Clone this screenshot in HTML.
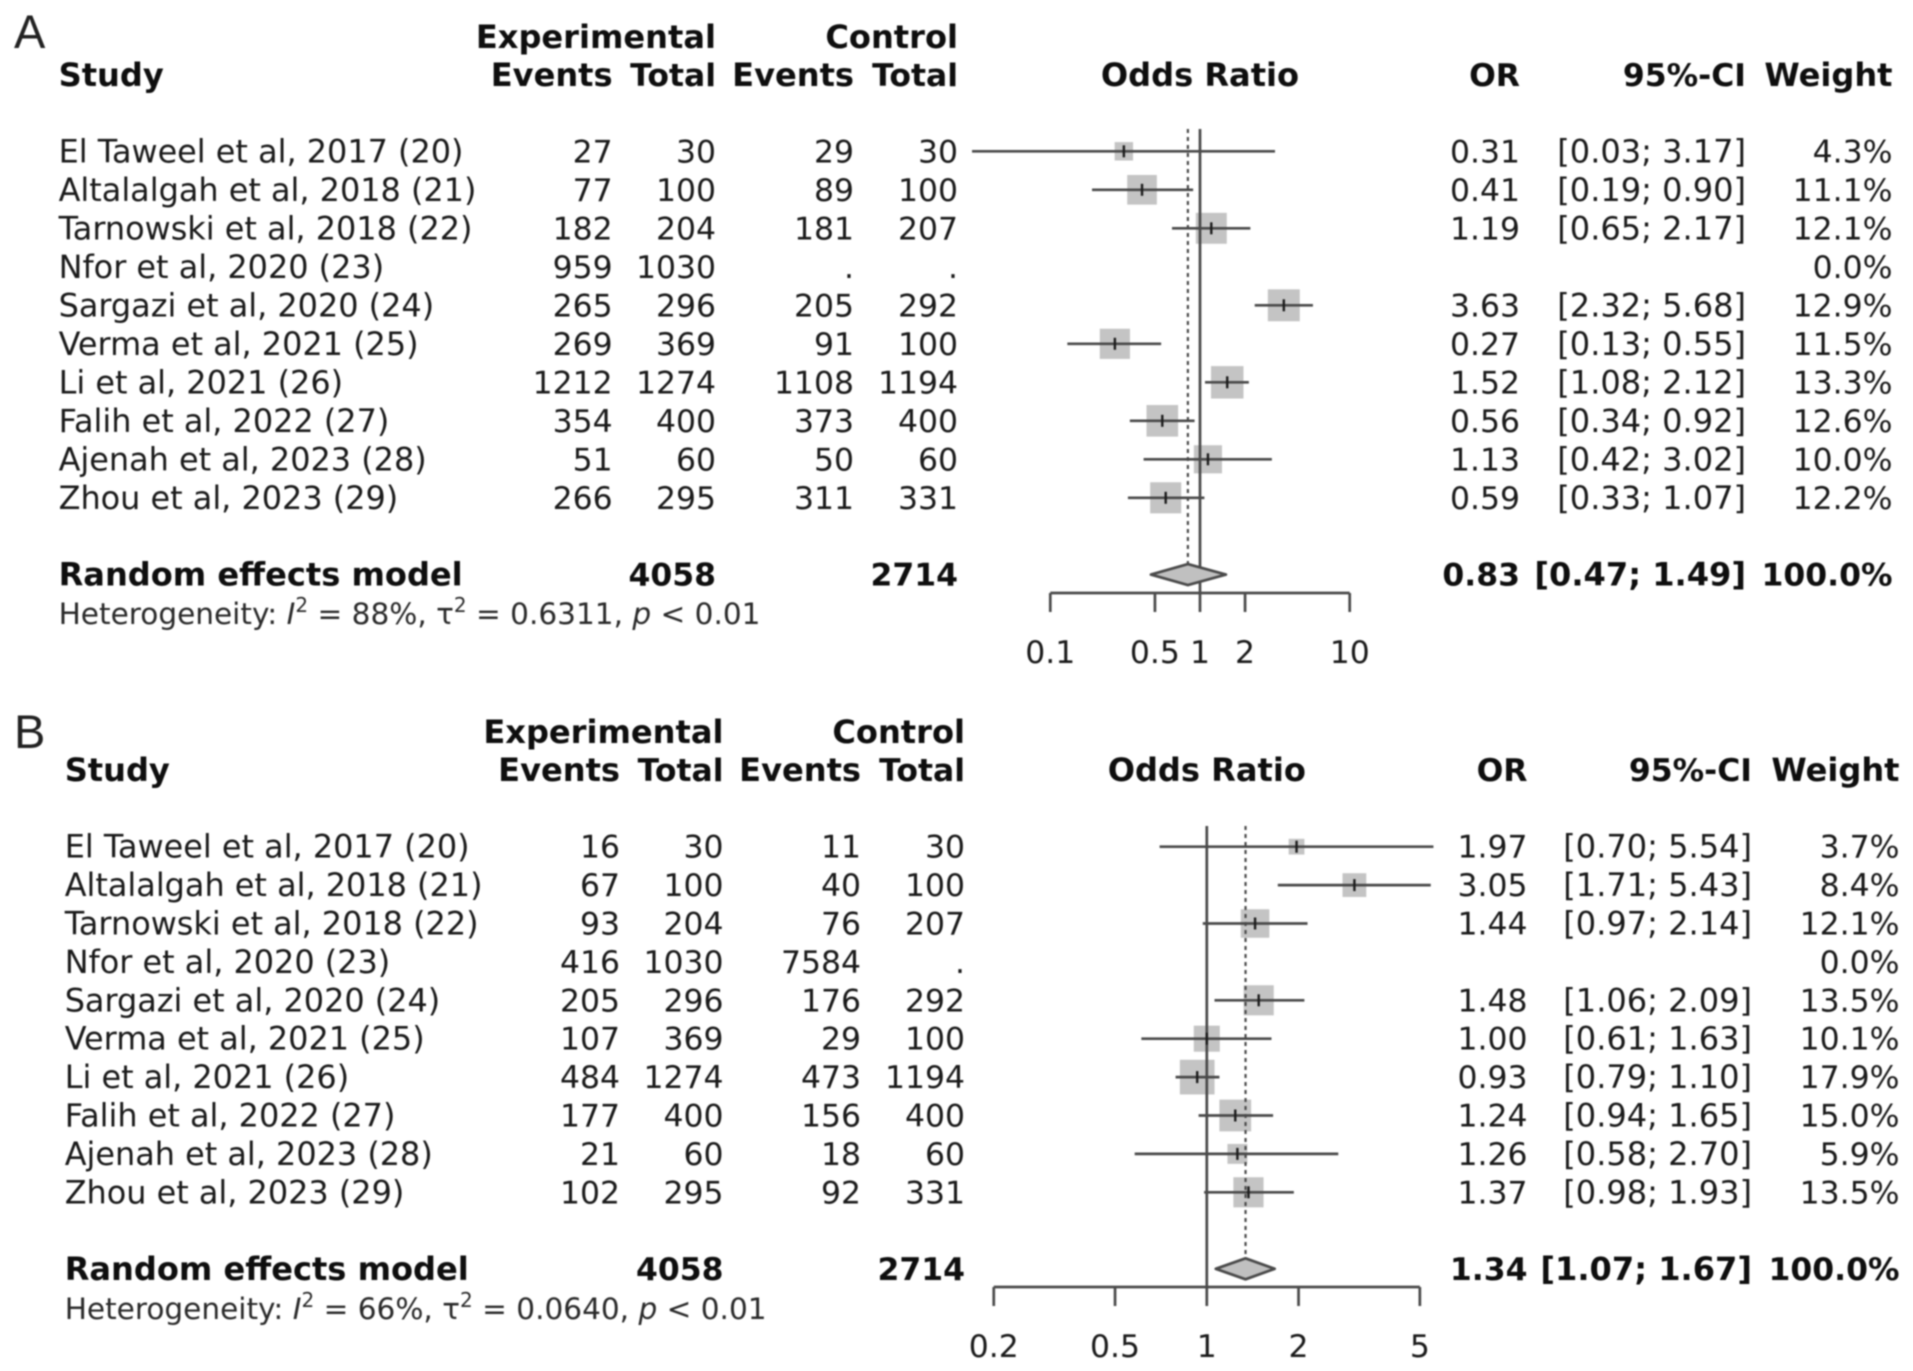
<!DOCTYPE html>
<html lang="en">
<head>
<meta charset="utf-8">
<title>Forest plots</title>
<style>
html,body{margin:0;padding:0;background:#fff;}
svg{display:block;filter:blur(0.9px);}
text{font-family:"DejaVu Sans","Liberation Sans",sans-serif;font-size:31.9px;fill:#1a1a1a;}
.n{font-size:31.45px;}
.ci{font-size:32.05px;}
.b{font-weight:bold;fill:#0e0e0e;font-size:32.1px;}
.b.n{font-size:31.45px;}
.h{font-size:29.55px;fill:#2a2a2a;}
.letter{font-family:"Liberation Sans",sans-serif;font-size:47px;fill:#222;}
</style>
</head>
<body>
<svg id="chart" xmlns="http://www.w3.org/2000/svg" width="1913" height="1371" viewBox="0 0 1913 1371">
<rect width="1913" height="1371" fill="#fff"></rect>
</svg>
<script>
const studies = ["El Taweel et al, 2017 (20)","Altalalgah et al, 2018 (21)","Tarnowski et al, 2018 (22)","Nfor et al, 2020 (23)","Sargazi et al, 2020 (24)","Verma et al, 2021 (25)","Li et al, 2021 (26)","Falih et al, 2022 (27)","Ajenah et al, 2023 (28)","Zhou et al, 2023 (29)"];

const aExpEvents = ["27","77","182","959","265","269","1212","354","51","266"];
const aExpTotal = ["30","100","204","1030","296","369","1274","400","60","295"];
const aCtrlEvents = ["29","89","181",".","205","91","1108","373","50","311"];
const aCtrlTotal = ["30","100","207",".","292","100","1194","400","60","331"];
const aOR = [0.31,0.41,1.19,null,3.63,0.27,1.52,0.56,1.13,0.59];
const aLower = [0.03,0.19,0.65,null,2.32,0.13,1.08,0.34,0.42,0.33];
const aUpper = [3.17,0.90,2.17,null,5.68,0.55,2.12,0.92,3.02,1.07];
const aWeight = [4.3,11.1,12.1,0.0,12.9,11.5,13.3,12.6,10.0,12.2];
const aPooled = [0.83,0.47,1.49];
const aTotals = ["4058","2714"];
const aTicks = [0.1,0.5,1,2,10];
const aTickLabels = ["0.1","0.5","1","2","10"];
const aHet = ["88%","0.6311"];

const bExpEvents = ["16","67","93","416","205","107","484","177","21","102"];
const bExpTotal = ["30","100","204","1030","296","369","1274","400","60","295"];
const bCtrlEvents = ["11","40","76","7584","176","29","473","156","18","92"];
const bCtrlTotal = ["30","100","207",".","292","100","1194","400","60","331"];
const bOR = [1.97,3.05,1.44,null,1.48,1.00,0.93,1.24,1.26,1.37];
const bLower = [0.70,1.71,0.97,null,1.06,0.61,0.79,0.94,0.58,0.98];
const bUpper = [5.54,5.43,2.14,null,2.09,1.63,1.10,1.65,2.70,1.93];
const bWeight = [3.7,8.4,12.1,0.0,13.5,10.1,17.9,15.0,5.9,13.5];
const bPooled = [1.34,1.07,1.67];
const bTotals = ["4058","2714"];
const bTicks = [0.2,0.5,1,2,5];
const bTickLabels = ["0.2","0.5","1","2","5"];
const bHet = ["66%","0.0640"];

const NS = "http://www.w3.org/2000/svg";
const root = document.getElementById("chart");

function mk(parent, tag, attrs) {
  const el = document.createElementNS(NS, tag);
  for (const k in attrs) el.setAttribute(k, attrs[k]);
  parent.appendChild(el);
  return el;
}

function label(parent, str, x, y, anchor, cls, name) {
  const t = mk(parent, "text", {x: x, y: y, "text-anchor": anchor});
  if (cls) t.setAttribute("class", cls);
  t.textContent = str;
  
  
  return t;
}

function span(parent, str, style, dy) {
  const s = mk(parent, "tspan", {});
  if (style) s.setAttribute("font-style", style);
  if (dy) s.setAttribute("dy", dy);
  s.textContent = str;
  return s;
}

function panel(p) {
  const g = mk(root, "g", {});
  
  

  const xScale = v => p.x1 + p.dec * Math.log10(v);
  const yRow = i => p.y0 + i * p.rowH;
  const c = p.cols;
  const GREY = "#4a4a4a";
  const SW = 2.7;

  label(g, p.letter, p.letterX, p.letterY, "start", "letter", "panel-letter");

  label(g, "Experimental", c.expTotal, p.yTop, "end", "b", "experimental-header");
  label(g, "Control", c.ctrlTotal, p.yTop, "end", "b", "control-header");
  label(g, "Study", c.study, p.yHead, "start", "b", "study-column-header");
  label(g, "Events", c.expEvents, p.yHead, "end", "b", "experimental-events-header");
  label(g, "Total", c.expTotal, p.yHead, "end", "b n", "experimental-total-header");
  label(g, "Events", c.ctrlEvents, p.yHead, "end", "b", "control-events-header");
  label(g, "Total", c.ctrlTotal, p.yHead, "end", "b n", "control-total-header");
  label(g, "Odds Ratio", xScale(1), p.yHead, "middle", "b", "odds-ratio-header");
  label(g, "OR", c.or, p.yHead, "end", "b n", "or-column-header");
  label(g, "95%-CI", c.ci, p.yHead, "end", "b n", "ci-column-header");
  label(g, "Weight", c.weight, p.yHead, "end", "b", "weight-column-header");

  // squares first, so lines and reference lines sit on top
  p.or.forEach((v, i) => {
    if (v === null) return;
    const s = p.k * Math.sqrt(p.weight[i]);
    const sq = mk(g, "rect", {x: xScale(v) - s / 2, y: yRow(i) - s / 2, width: s, height: s, fill: "#c4c4c4"});
    
    
  });

  const nullLine = mk(g, "line", {x1: xScale(1), x2: xScale(1), y1: p.yLineTop, y2: p.yAxis, stroke: GREY, "stroke-width": SW});
  
  

  const pooledLine = mk(g, "line", {x1: xScale(p.pooled[0]), x2: xScale(p.pooled[0]), y1: p.yLineTop, y2: p.yTotal - 11, stroke: GREY, "stroke-width": 2.2, "stroke-dasharray": "4 4"});
  
  

  studies.forEach((name, i) => {
    const y = yRow(i);
    const ty = y + 11;
    label(g, name, c.study, ty, "start", "", "study-name");
    label(g, p.expEvents[i], c.expEvents, ty, "end", "n", "experimental-events");
    label(g, p.expTotal[i], c.expTotal, ty, "end", "n", "experimental-total");
    label(g, p.ctrlEvents[i], c.ctrlEvents, ty, "end", "n", "control-events");
    label(g, p.ctrlTotal[i], c.ctrlTotal, ty, "end", "n", "control-total");
    label(g, p.weight[i].toFixed(1) + "%", c.weight, ty, "end", "n", "study-weight");
    if (p.or[i] === null) return;
    label(g, p.or[i].toFixed(2), c.or, ty, "end", "n", "study-or");
    label(g, "[" + p.lower[i].toFixed(2) + "; " + p.upper[i].toFixed(2) + "]", c.ci, ty, "end", "ci", "study-ci");
    const ci = mk(g, "line", {x1: xScale(p.lower[i]), x2: xScale(p.upper[i]), y1: y, y2: y, stroke: GREY, "stroke-width": SW});
    
    
    const tick = mk(g, "line", {x1: xScale(p.or[i]), x2: xScale(p.or[i]), y1: y - 6, y2: y + 6, stroke: "#1c1c1c", "stroke-width": 2.4});
    
    
  });

  const ty = p.yTotal + 11;
  label(g, "Random effects model", c.study, ty, "start", "b", "random-effects-label");
  label(g, p.totals[0], c.expTotal, ty, "end", "b n", "experimental-grand-total");
  label(g, p.totals[1], c.ctrlTotal, ty, "end", "b n", "control-grand-total");
  label(g, p.pooled[0].toFixed(2), c.or, ty, "end", "b n", "pooled-or");
  label(g, "[" + p.pooled[1].toFixed(2) + "; " + p.pooled[2].toFixed(2) + "]", c.ci, ty, "end", "b", "pooled-ci");
  label(g, "100.0%", c.weight, ty, "end", "b n", "pooled-weight");

  const d = p.yTotal, hd = 10.5;
  const pts = [[xScale(p.pooled[1]), d], [xScale(p.pooled[0]), d - hd], [xScale(p.pooled[2]), d], [xScale(p.pooled[0]), d + hd]];
  const diamond = mk(g, "polygon", {points: pts.map(q => q.join(",")).join(" "), fill: "#c0c0c0", stroke: GREY, "stroke-width": SW, "stroke-linejoin": "round"});
  
  

  const het = label(g, "Heterogeneity: ", c.study, p.yHet, "start", "h", "heterogeneity-statistics");
  span(het, "I", "italic");
  span(het, "2", "", "-12").setAttribute("font-size", "20");
  span(het, " = " + p.het[0] + ", τ", "", "12");
  span(het, "2", "", "-12").setAttribute("font-size", "20");
  span(het, " = " + p.het[1] + ", ", "", "12");
  span(het, "p", "italic");
  span(het, " < 0.01");

  const axis = mk(g, "line", {x1: xScale(p.ticks[0]), x2: xScale(p.ticks[p.ticks.length - 1]), y1: p.yAxis, y2: p.yAxis, stroke: GREY, "stroke-width": SW});
  
  
  p.ticks.forEach((v, i) => {
    const tk = mk(g, "line", {x1: xScale(v), x2: xScale(v), y1: p.yAxis, y2: p.yAxis + 19, stroke: GREY, "stroke-width": SW});
    
    
    label(g, p.tickLabels[i], xScale(v), p.yTickLabel, "middle", "n", "x-axis-tick-label");
  });
}

panel({
  name: "forest-plot-a", letter: "A", letterX: 14, letterY: 48,
  expEvents: aExpEvents, expTotal: aExpTotal, ctrlEvents: aCtrlEvents, ctrlTotal: aCtrlTotal,
  or: aOR, lower: aLower, upper: aUpper, weight: aWeight, pooled: aPooled, totals: aTotals,
  ticks: aTicks, tickLabels: aTickLabels, het: aHet,
  x1: 1200, dec: 149.7, k: 8.9,
  y0: 151.3, rowH: 38.5, yTop: 48, yHead: 86, yTotal: 574.6, yHet: 624, yAxis: 593, yTickLabel: 663, yLineTop: 129,
  cols: {study: 58.6, expEvents: 612.6, expTotal: 716, ctrlEvents: 854, ctrlTotal: 958, or: 1520, ci: 1746, weight: 1892.5}
});

panel({
  name: "forest-plot-b", letter: "B", letterX: 14, letterY: 748,
  expEvents: bExpEvents, expTotal: bExpTotal, ctrlEvents: bCtrlEvents, ctrlTotal: bCtrlTotal,
  or: bOR, lower: bLower, upper: bUpper, weight: bWeight, pooled: bPooled, totals: bTotals,
  ticks: bTicks, tickLabels: bTickLabels, het: bHet,
  x1: 1206.8, dec: 304.8, k: 8.2,
  y0: 846.7, rowH: 38.4, yTop: 743, yHead: 781, yTotal: 1268.8, yHet: 1319, yAxis: 1287, yTickLabel: 1357, yLineTop: 826,
  cols: {study: 64.7, expEvents: 620, expTotal: 723.5, ctrlEvents: 861, ctrlTotal: 965, or: 1527.5, ci: 1752, weight: 1899.5}
});
</script>
</body>
</html>
